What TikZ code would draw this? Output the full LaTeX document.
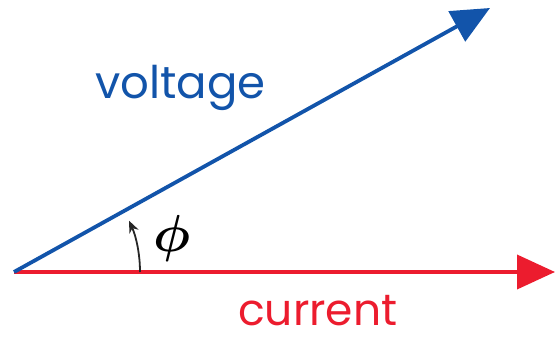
\documentclass[tikz,border=0pt]{standalone}
\usepackage{amsmath}
\usepackage{fontspec}
\usepackage{graphicx}
\setmainfont{Poppins}
\definecolor{vblue}{RGB}{18,84,170}
\definecolor{ired}{RGB}{236,28,46}
\usetikzlibrary{arrows.meta,positioning}

\begin{document}
\begin{tikzpicture}[x=1pt,y=-1pt,
  phasor/.style={line width=3.8pt,-{Triangle[length=38pt,width=34pt]}},
  lbl/.style={inner sep=0pt,anchor=base west,font=\fontsize{45}{48}\selectfont}]
  \useasboundingbox (0,0) rectangle (555,340);
  \coordinate (o) at (14,272);
  \coordinate (vtip) at (490,8);
  \coordinate (itip) at (555,272);
  \coordinate (as) at (140,272);
  \draw[phasor,ired] (o) -- (itip);
  \draw[phasor,vblue] (o) -- (vtip);
  \draw[line width=1.8pt,black!85,-{Stealth[length=12pt,width=10pt]}] (as) arc[start angle=0,end angle=-24,radius=126];
  \node[inner sep=0pt] (phi) at (172,238) {\scalebox{5.2}{$\boldsymbol{\phi}$}};
  \node[lbl,text=vblue] (volt) at (95,98) {voltage};
  \node[lbl,text=ired,text depth=0pt,font=\fontsize{44}{46}\selectfont] (curr) at (238,325) {current};
\end{tikzpicture}
\end{document}
